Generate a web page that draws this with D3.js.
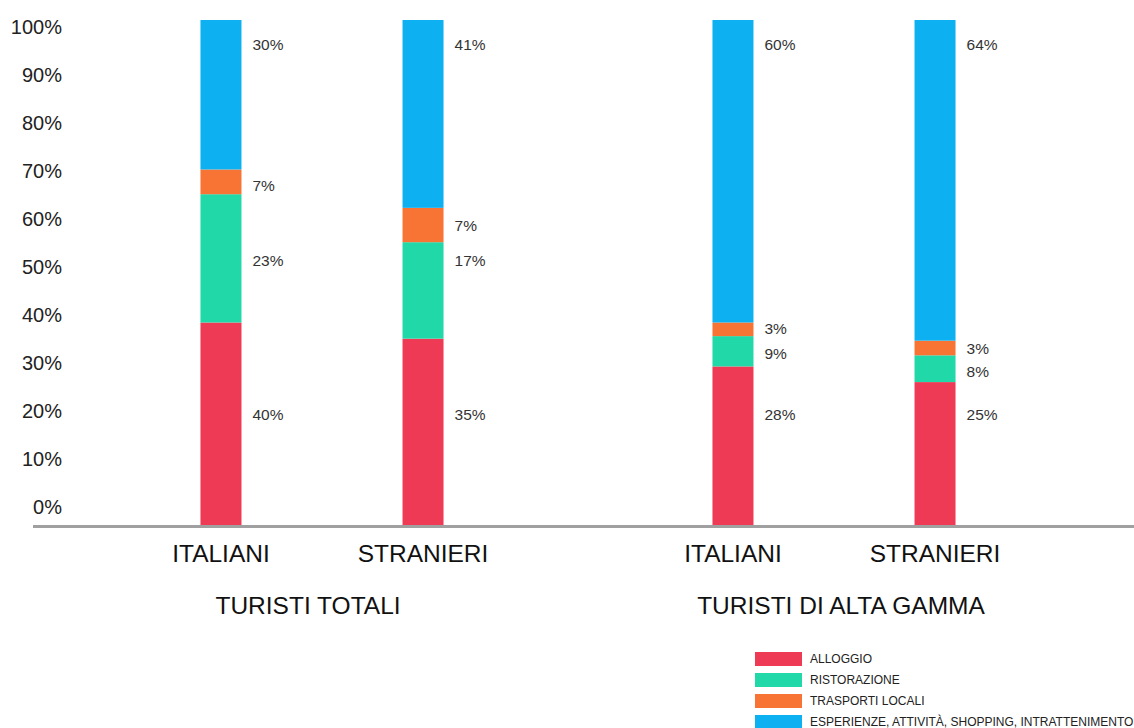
<!DOCTYPE html>
<html><head><meta charset="utf-8">
<script src="https://cdn.jsdelivr.net/npm/d3@7"></script>
<style>
html,body{margin:0;padding:0;background:#fff;overflow:hidden;}
svg{display:block;font-family:"Liberation Sans",Arial,sans-serif;}
</style></head>
<body><svg id="chart" width="1134" height="728"></svg>
<script>
// ---- data ----
const groups = ["TURISTI TOTALI", "TURISTI DI ALTA GAMMA"];
const categories = ["ITALIANI", "STRANIERI"];
const series = ["ALLOGGIO", "RISTORAZIONE", "TRASPORTI LOCALI", "ESPERIENZE, ATTIVITÀ, SHOPPING, INTRATTENIMENTO"];
const colors = ["#EF3A55", "#20D8A8", "#F87435", "#0DB0F1"];
// segment heights (percent) as drawn, per bar (group-major order)
const alloggio     = [40.1, 36.9, 31.4, 28.3];
const ristorazione = [25.4, 19.1, 6.0, 5.3];
const trasporti    = [4.9, 6.8, 2.7, 2.9];
const esperienze   = [29.6, 37.2, 59.9, 63.5];
// printed value labels
const labAlloggio     = ["40%", "35%", "28%", "25%"];
const labRistorazione = ["23%", "17%", "9%", "8%"];
const labTrasporti    = ["7%", "7%", "3%", "3%"];
const labEsperienze   = ["30%", "41%", "60%", "64%"];
// label anchor levels (percent) per series per bar
const anchAlloggio     = [21.8, 21.8, 21.8, 21.8];
const anchRistorazione = [52.3, 52.3, 33.9, 30.5];
const anchTrasporti    = [67.3, 59.4, 39.0, 35.0];
const anchEsperienze   = [95.2, 95.2, 95.2, 95.2];
const yTicks = [0, 10, 20, 30, 40, 50, 60, 70, 80, 90, 100];

const values = [alloggio, ristorazione, trasporti, esperienze];
const labels = [labAlloggio, labRistorazione, labTrasporti, labEsperienze];
const anchors = [anchAlloggio, anchRistorazione, anchTrasporti, anchEsperienze];

const svg = d3.select("#chart");
const barW = 41;

const y = d3.scaleLinear().domain([0, 100]).range([525, 20]);
const yLab = d3.scaleLinear().domain([0, 100]).range([507, 27]);
const x0 = d3.scaleBand().domain(groups).range([66, 1090]).padding(0);
const x1 = d3.scalePoint().domain(categories).range([0, x0.bandwidth()]).padding(0.767);

const bars = [];
groups.forEach((g, gi) => categories.forEach((c, ci) => {
  const i = gi * 2 + ci;
  bars.push({g, c, i, cx: x0(g) + x1(c)});
}));

// stacked segments
const stackData = bars.map(b => {
  const o = {key: b.i};
  series.forEach((s, si) => o[s] = values[si][b.i]);
  return o;
});
const stacked = d3.stack().keys(series)(stackData);

stacked.forEach((layer, si) => {
  svg.append("g").selectAll("rect").data(layer).join("rect")
    .attr("x", (d, i) => bars[i].cx - barW / 2)
    .attr("width", barW)
    .attr("y", d => y(d[1]))
    .attr("height", d => y(d[0]) - y(d[1]))
    .attr("fill", colors[si]);
});

// value labels
series.forEach((s, si) => {
  svg.append("g").selectAll("text").data(bars).join("text")
    .attr("x", b => b.cx + barW / 2 + 11)
    .attr("y", b => y(anchors[si][b.i]))
    .attr("dy", "0.36em")
    .attr("font-size", 15.5)
    .attr("fill", "#333")
    .text(b => labels[si][b.i]);
});

// y tick labels
svg.append("g").selectAll("text").data(yTicks).join("text")
  .attr("x", 62).attr("y", d => yLab(d)).attr("dy", "0.36em")
  .attr("text-anchor", "end").attr("font-size", 20).attr("fill", "#222")
  .text(d => d + "%");

// baseline axis
svg.append("line").attr("x1", 33).attr("x2", 1134)
  .attr("y1", y(0) + 1.5).attr("y2", y(0) + 1.5)
  .attr("stroke", "#a0a0a0").attr("stroke-width", 3);

// category labels
svg.append("g").selectAll("text").data(bars).join("text")
  .attr("x", b => b.cx).attr("y", 553).attr("dy", "0.36em")
  .attr("text-anchor", "middle").attr("font-size", 24.5).attr("fill", "#111")
  .text(b => b.c);

// group labels
svg.append("g").selectAll("text").data(groups).join("text")
  .attr("x", g => x0(g) + x0.bandwidth() / 2 + (g === groups[0] ? -14 : 7))
  .attr("y", 605).attr("dy", "0.36em")
  .attr("text-anchor", "middle").attr("font-size", 24.5).attr("fill", "#111")
  .text(g => g);

// legend
const lg = svg.append("g").attr("transform", "translate(755,652)");
const li = lg.selectAll("g").data(series).join("g")
  .attr("transform", (d, i) => `translate(0,${i * 21})`);
li.append("rect").attr("width", 47).attr("height", 14).attr("fill", (d, i) => colors[i]);
li.append("text").attr("x", 55).attr("y", 7).attr("dy", "0.36em")
  .attr("font-size", 12).attr("fill", "#222").text(d => d);
</script></body></html>
